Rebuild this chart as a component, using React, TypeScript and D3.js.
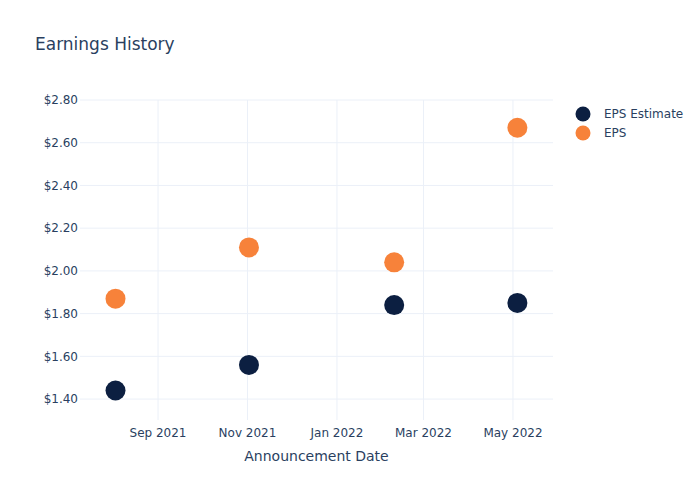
import React from "react";
import * as d3 from "d3";

const dates = ["2021-08-03", "2021-11-02", "2022-02-09", "2022-05-04"];
const epsEstimate = [1.44, 1.56, 1.84, 1.85];
const eps = [1.87, 2.11, 2.04, 2.67];
const yTicks = [1.4, 1.6, 1.8, 2.0, 2.2, 2.4, 2.6, 2.8];
const xTicks = ["2021-09-01", "2021-11-01", "2022-01-01", "2022-03-01", "2022-05-01"];
const seriesNames = ["EPS Estimate", "EPS"];
const colors = ["#0c1f41", "#f7823a"];

const W = 700, H = 500;
const L = 80, R = 553, T = 100, B = 420;
const font = "'DejaVu Sans', Verdana, sans-serif";
const textColor = "#2a3f5f";
const grid = "#ebf0f8";

export default function App() {
  const parse = (s: string) => new Date(s + "T00:00:00");
  const x = d3.scaleTime()
    .domain([new Date(2021, 6, 9, 19), new Date(2022, 4, 28, 7)])
    .range([L, R]);
  const y = d3.scaleLinear().domain([1.302, 2.8]).range([B, T]);
  const fmtX = d3.timeFormat("%b %Y");
  const fmtY = (v: number) => "$" + v.toFixed(2);
  const series = [epsEstimate, eps];

  return (
    <svg width={W} height={H} style={{ position: "absolute", left: 0, top: 0, background: "#fff" }} fontFamily={font}>
      <rect x={0} y={0} width={W} height={H} fill="#fff" />
      {yTicks.map((t) => (
        <g key={"y" + t}>
          <line x1={L} x2={R} y1={y(t)} y2={y(t)} stroke={grid} strokeWidth={1} />
          <text x={78} y={y(t)} dy="0.35em" textAnchor="end" fontSize={12} fill={textColor}>{fmtY(t)}</text>
        </g>
      ))}
      {xTicks.map((t) => (
        <g key={"x" + t}>
          <line x1={x(parse(t))} x2={x(parse(t))} y1={T} y2={B} stroke={grid} strokeWidth={1} />
          <text x={x(parse(t))} y={437} textAnchor="middle" fontSize={12} fill={textColor}>{fmtX(parse(t))}</text>
        </g>
      ))}
      {series.map((vals, si) => (
        <g key={"s" + si}>
          {vals.map((v, i) => (
            <circle key={i} cx={x(parse(dates[i]))} cy={y(v)} r={10} fill={colors[si]} />
          ))}
        </g>
      ))}
      <text x={35} y={50} fontSize={17} fill={textColor}>Earnings History</text>
      <text x={(L + R) / 2} y={461} textAnchor="middle" fontSize={14} fill={textColor}>Announcement Date</text>
      {seriesNames.map((n, i) => (
        <g key={n} transform={`translate(583, ${114 + i * 19})`}>
          <circle cx={0} cy={0} r={7.5} fill={colors[i]} />
          <text x={21} y={0} dy="0.35em" fontSize={12} fill={textColor}>{n}</text>
        </g>
      ))}
    </svg>
  );
}
